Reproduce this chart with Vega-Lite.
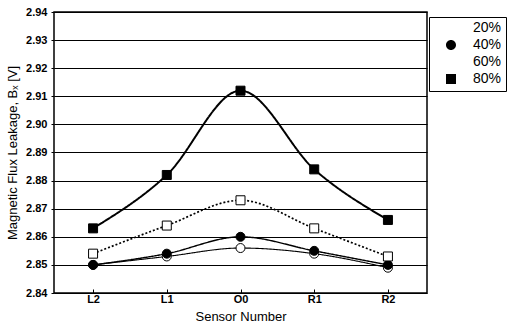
{
  "$schema": "https://vega.github.io/schema/vega-lite/v6.json",
  "width": 373,
  "height": 281,
  "autosize": "none",
  "padding": {"left": 54, "top": 12, "right": 81, "bottom": 40},
  "background": "white",
  "config": {
    "font": "Liberation Sans",
    "view": {"stroke": "black", "strokeWidth": 1.5}
  },
  "data": {
    "values": [
      {"sensor": "L2", "series": "20%", "value": 2.850},
      {"sensor": "L1", "series": "20%", "value": 2.853},
      {"sensor": "O0", "series": "20%", "value": 2.856},
      {"sensor": "R1", "series": "20%", "value": 2.854},
      {"sensor": "R2", "series": "20%", "value": 2.849},
      {"sensor": "L2", "series": "40%", "value": 2.850},
      {"sensor": "L1", "series": "40%", "value": 2.854},
      {"sensor": "O0", "series": "40%", "value": 2.860},
      {"sensor": "R1", "series": "40%", "value": 2.855},
      {"sensor": "R2", "series": "40%", "value": 2.850},
      {"sensor": "L2", "series": "60%", "value": 2.854},
      {"sensor": "L1", "series": "60%", "value": 2.864},
      {"sensor": "O0", "series": "60%", "value": 2.873},
      {"sensor": "R1", "series": "60%", "value": 2.863},
      {"sensor": "R2", "series": "60%", "value": 2.853},
      {"sensor": "L2", "series": "80%", "value": 2.863},
      {"sensor": "L1", "series": "80%", "value": 2.882},
      {"sensor": "O0", "series": "80%", "value": 2.912},
      {"sensor": "R1", "series": "80%", "value": 2.884},
      {"sensor": "R2", "series": "80%", "value": 2.866}
    ]
  },
  "encoding": {
    "x": {
      "field": "sensor",
      "type": "ordinal",
      "sort": ["L2", "L1", "O0", "R1", "R2"],
      "scale": {"type": "point", "padding": 0.53},
      "axis": {
        "orient": "bottom",
        "title": "Sensor Number",
        "titleFontSize": 13,
        "titleFontWeight": "normal",
        "titleColor": "black",
        "titlePadding": 6,
        "labelFontSize": 11,
        "labelFontWeight": "bold",
        "labelColor": "black",
        "labelAngle": 0,
        "labelPadding": 4,
        "tickSize": -4,
        "tickColor": "black",
        "domain": false
      }
    },
    "y": {
      "field": "value",
      "type": "quantitative",
      "scale": {"domain": [2.84, 2.94], "nice": false, "zero": false},
      "axis": {
        "title": "Magnetic Flux Leakage, Bₓ [V]",
        "titleFontSize": 13,
        "titleFontWeight": "normal",
        "titleColor": "black",
        "titlePadding": 6,
        "values": [2.84, 2.85, 2.86, 2.87, 2.88, 2.89, 2.9, 2.91, 2.92, 2.93, 2.94],
        "format": ".2f",
        "labelFontSize": 11,
        "labelFontWeight": "bold",
        "labelColor": "black",
        "labelPadding": 4,
        "tickSize": 3,
        "tickColor": "black",
        "grid": true,
        "gridColor": "black",
        "gridOpacity": 1,
        "gridWidth": 1,
        "domain": false
      }
    }
  },
  "layer": [
    {
      "mark": {"type": "line", "interpolate": "monotone", "color": "black"},
      "encoding": {
        "detail": {"field": "series"},
        "strokeWidth": {
          "field": "series",
          "type": "nominal",
          "scale": {"domain": ["20%", "40%", "60%", "80%"], "range": [1.1, 2, 0.8, 1.3]},
          "legend": null
        },
        "strokeDash": {
          "field": "series",
          "type": "nominal",
          "scale": {"domain": ["20%", "40%", "60%", "80%"], "range": [[1, 0], [1, 0], [2, 2], [1, 0]]},
          "legend": null
        }
      }
    },
    {
      "mark": {"type": "point", "filled": true, "size": 81, "stroke": "black", "strokeWidth": 1, "opacity": 1},
      "encoding": {
        "fill": {
          "field": "series",
          "type": "nominal",
          "scale": {"range": ["white", "black", "white", "black"]},
          "legend": null
        },
        "shape": {
          "field": "series",
          "type": "nominal",
          "scale": {"range": ["circle", "circle", "square", "square"]},
          "legend": null
        }
      }
    },
    {
      "transform": [{"filter": "datum.value < 0"}],
      "mark": {"type": "point", "filled": true, "size": 100, "stroke": "black", "strokeWidth": 1.2, "opacity": 1},
      "encoding": {
        "fill": {
          "field": "series",
          "type": "nominal",
          "scale": {"domain": ["20%", "40%", "60%", "80%"], "range": ["white", "black", "white", "black"]}
        },
        "stroke": {
          "field": "series",
          "type": "nominal",
          "scale": {"domain": ["20%", "40%", "60%", "80%"], "range": ["black", "black", "black", "black"]}
        },
        "shape": {
          "field": "series",
          "type": "nominal",
          "scale": {
            "domain": ["20%", "40%", "60%", "80%"],
            "range": [
              "M-3.3,0H-1M1,0H3.3M-1,0A1,1 0 1,0 1,0A1,1 0 1,0 -1,0Z",
              "M-3.3,0H-1M1,0H3.3M-1,0A1,1 0 1,0 1,0A1,1 0 1,0 -1,0Z",
              "M-3.3,0H-1M1,0H3.3M-1,-1H1V1H-1Z",
              "M-3.3,0H-1M1,0H3.3M-1,-1H1V1H-1Z"
            ]
          },
          "legend": {
            "title": null,
            "orient": "none",
            "legendX": 375,
            "legendY": 5,
            "strokeColor": "black",
            "fillColor": "white",
            "padding": 4,
            "symbolSize": 100,
            "symbolOffset": 11,
            "symbolStrokeColor": "black",
            "symbolStrokeWidth": 1.2,
            "symbolOpacity": 1,
            "labelOffset": 15,
            "labelFontSize": 14,
            "labelColor": "black",
            "rowPadding": 1
          }
        }
      }
    }
  ],
  "resolve": {"scale": {"shape": "independent", "fill": "independent"}}
}
